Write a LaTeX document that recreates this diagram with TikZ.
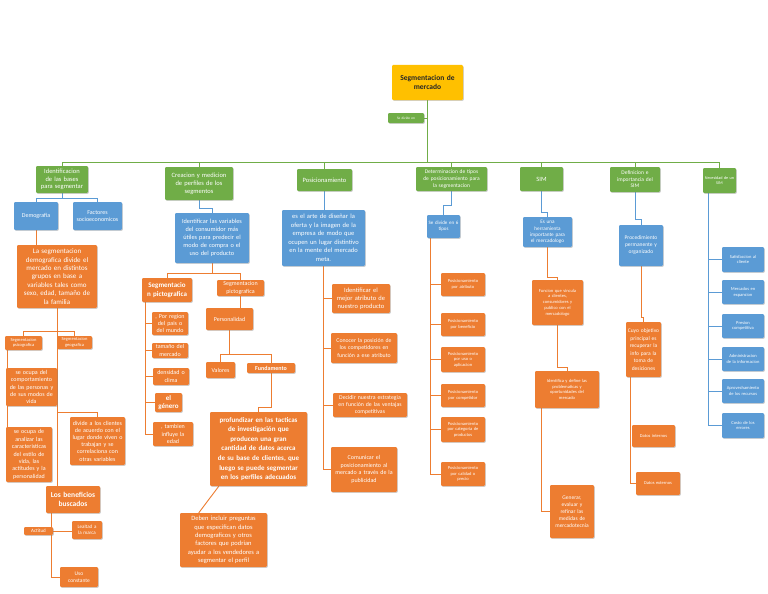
\documentclass[tikz,border=0pt]{standalone}
\usepackage{fontspec}
\setmainfont{Carlito}
\usetikzlibrary{shadows}
\definecolor{cgreen}{HTML}{70AD47}
\definecolor{cblue}{HTML}{5B9BD5}
\definecolor{corange}{HTML}{ED7D31}
\definecolor{cgold}{HTML}{FFC000}
\newcommand\myfs[2]{\fontsize{#1}{#2}\selectfont}
\newcommand\mybox[7]{%
  \pgfmathsetmacro\mbcx{(#3+#5)/2}%
  \pgfmathsetmacro\mbcy{(#4+#6)/2}%
  \pgfmathsetmacro\mbw{#5-#3}%
  \pgfmathsetmacro\mbh{#6-#4}%
  \pgfmathsetmacro\mbtw{#5-#3-2}%
  \node[box,#2,minimum width=\mbw pt,minimum height=\mbh pt,text width=\mbtw pt] (#1) at (\mbcx,\mbcy) {#7};%
}
\pgfdeclarelayer{bg}
\pgfsetlayers{bg,main}
\tikzset{
  box/.style={draw=none,rounded corners=1.2pt,inner xsep=1pt,inner ysep=0.5pt,align=center,text=white,
    drop shadow={shadow xshift=0.8pt,shadow yshift=-0.9pt,opacity=0.35}},
  gb/.style={fill=cgreen},
  bb/.style={fill=cblue},
  ob/.style={fill=corange},
  tb/.style={fill=cgold,text=black!85},
  gl/.style={draw=cgreen,line width=0.9pt},
  bl/.style={draw=cblue,line width=0.9pt},
  ol/.style={draw=corange,line width=0.9pt},
}
\begin{document}
\begin{tikzpicture}[x=1pt,y=-1pt]
\useasboundingbox (0,0) rectangle (768,594);
% title
\mybox{title}{tb,font=\myfs{7.5}{9}\bfseries}{392}{65}{463}{100}{Segmentacion de\\mercado}
\mybox{sdiv}{gb,font=\myfs{3.5}{4}}{388}{113}{424}{123}{Se divide en}
% level 1
\mybox{g1}{gb,font=\myfs{6.5}{7.8}}{36}{166}{88}{193}{Identificacion\\de las bases\\para segmentar}
\mybox{g2}{gb,font=\myfs{6.5}{7.8}}{165}{167}{233}{200}{Creacion y medicion\\de perfiles de los\\segmentos}
\mybox{g3}{gb,font=\myfs{6.5}{7.8}}{297}{169}{352}{191}{Posicionamiento}
\mybox{g4}{gb,font=\myfs{5.5}{6.6}}{416}{167}{487}{191}{Determinacion de tipos\\de posicionamiento para\\la segmentacion}
\mybox{g5}{gb,font=\myfs{6.5}{7.8}}{520}{167}{563}{191}{SIM}
\mybox{g6}{gb,font=\myfs{5.5}{6.6}}{610}{167}{660}{192}{Definicion e\\importancia del\\SIM}
\mybox{g7}{gb,inner xsep=0pt,font=\myfs{4.2}{5.2}}{703}{168}{736}{193}{\mbox{Necesidad de un}\\SIM}
% column 1
\mybox{demo}{bb,font=\myfs{6}{7.2}}{14}{202}{58}{230}{Demografia}
\mybox{fact}{bb,font=\myfs{6}{7.2}}{73}{202}{122}{230}{Factores\\socioeconomicos}
\mybox{segdem}{ob,font=\myfs{7}{8.4}}{17}{245}{97}{308}{La segmentacion\\demografica divide el\\mercado en distintos\\grupos en base a\\variables tales como\\sexo, edad, tamaño de\\la familia}
\mybox{psico}{ob,font=\myfs{4.5}{5.4}}{5}{336}{42}{350}{Segmentacion\\psicografica}
\mybox{geo}{ob,font=\myfs{4.5}{5.4}}{57}{336}{92}{349}{Segmentacion\\geografica}
\mybox{comp}{ob,font=\myfs{6}{7.2}}{6}{368}{57}{406}{se ocupa del\\comportamiento\\de las personas y\\de sus modos de\\vida}
\mybox{divide}{ob,font=\myfs{6}{7.2}}{70}{417}{125}{465}{divide a los clientes\\de acuerdo con el\\lugar donde viven o\\trabajan y se\\correlaciona con\\otras variables}
\mybox{anal}{ob,font=\myfs{6}{7.4}}{6}{427}{52}{482}{se ocupa de\\analizar las\\caracteristicas\\del estilo de\\vida, las\\actitudes y la\\personalidad}
\mybox{benef}{ob,font=\myfs{7.5}{9}\bfseries}{46}{486}{100}{513}{Los beneficios\\buscados}
\mybox{actit}{ob,font=\myfs{5}{6}}{24}{527}{53}{535}{Actitud}
\mybox{leal}{ob,font=\myfs{5}{6}}{72}{521}{102}{539}{Lealtad a\\la marca}
\mybox{uso}{ob,font=\myfs{5.5}{6.6}}{60}{567}{98}{587}{Uso\\constante}
% column 2
\mybox{ident2}{bb,font=\myfs{6.3}{8}}{175}{213}{249}{263}{Identificar las variables\\del consumidor más\\útiles para predecir el\\modo de compra o el\\uso del producto}
\mybox{spict}{ob,font=\myfs{7}{8.4}\bfseries}{142}{278}{192}{302}{Segmentacio\\n pictografica}
\mybox{spict2}{ob,font=\myfs{6}{7.2}}{217}{280}{264}{296}{Segmentacion\\pictografica}
\mybox{person}{ob,font=\myfs{6}{7.2}}{206}{308}{253}{330}{Personalidad}
\mybox{valores}{ob,font=\myfs{6}{7.2}}{206}{362}{235}{378}{Valores}
\mybox{fund}{ob,font=\myfs{6}{7.2}\bfseries}{247}{363}{295}{373}{Fundamento}
\mybox{region}{ob,font=\myfs{6}{7.2}}{152}{312}{188}{335}{, Por region\\del pais o\\del mundo}
\mybox{tam}{ob,font=\myfs{6}{7.2}}{152}{343}{188}{358}{tamaño del\\mercado}
\mybox{dens}{ob,font=\myfs{6}{7.2}}{153}{368}{189}{385}{densidad o\\clima}
\mybox{genero}{ob,font=\myfs{7}{8.4}\bfseries}{155}{393}{182}{412}{el\\género}
\mybox{tamb}{ob,font=\myfs{6}{7.2}}{153}{422}{193}{446}{, tambien\\influye la\\edad}
\mybox{prof}{ob,font=\myfs{7}{9.6}\bfseries}{210}{412}{307}{486}{profundizar en las tacticas\\de investigación que\\producen una gran\\cantidad de datos acerca\\de su base de clientes, que\\luego se puede segmentar\\en los perfiles adecuados}
\mybox{deben}{ob,font=\myfs{6.5}{8.3}}{180}{513}{267}{567}{Deben incluir preguntas\\que especifican datos\\demograficos y otros\\factores que podrian\\ayudar a los vendedores a\\segmentar el perfil}
% column 3
\mybox{arte}{bb,font=\myfs{6.5}{8.5}}{282}{210}{365}{266}{es el arte de diseñar la\\oferta y la imagen de la\\empresa de modo que\\ocupen un lugar distintivo\\en la mente del mercado\\meta.}
\mybox{p1}{ob,font=\myfs{6.5}{8}}{332}{284}{390}{313}{Identificar el\\mejor atributo de\\nuestro producto}
\mybox{p2}{ob,font=\myfs{5.8}{7.2}}{331}{333}{397}{363}{Conocer la posición de\\los competidores en\\función a ese atributo}
\mybox{p3}{ob,font=\myfs{5.8}{7.2}}{333}{393}{407}{417}{Decidir nuestra estrategia\\en función de las ventajas\\competitivas}
\mybox{p4}{ob,font=\myfs{6}{7.5}}{331}{447}{397}{492}{Comunicar el\\posicionamiento al\\mercado a través de la\\publicidad}
% column 4
\mybox{sdiv6}{bb,font=\myfs{5}{6.2}}{427}{215}{460}{238}{Se divide en 6\\tipos}
\mybox{t1}{ob,font=\myfs{4.5}{5.6}}{441}{273}{485}{296}{Posicionamiento\\por atributo}
\mybox{t2}{ob,font=\myfs{4.5}{5.6}}{441}{313}{485}{336}{Posicionamiento\\por beneficio}
\mybox{t3}{ob,font=\myfs{4.5}{5.6}}{441}{347}{485}{372}{Posicionamiento\\por uso o\\aplicacion}
\mybox{t4}{ob,font=\myfs{4.5}{5.6}}{441}{384}{485}{407}{Posicionamiento\\por competidor}
\mybox{t5}{ob,font=\myfs{4.5}{5.6}}{441}{417}{485}{442}{Posicionamiento\\por categoria de\\productos}
\mybox{t6}{ob,font=\myfs{4.5}{5.6}}{441}{462}{485}{486}{Posicionamiento\\por calidad o\\precio}
% column 5
\mybox{herr}{bb,font=\myfs{5.2}{6.4}}{523}{217}{572}{247}{Es una\\herramienta\\importante para\\el mercadologo}
\mybox{func}{ob,font=\myfs{4.5}{5.8}}{532}{280}{583}{325}{Funcion que vincula\\a clientes,\\consumidores y\\publico con el\\mercadologo}
\mybox{ident5}{ob,font=\myfs{4.5}{5.8}}{535}{371}{599}{408}{Identifica y define las\\problematicas y\\oportunidades del\\mercado}
\mybox{gen}{ob,font=\myfs{5.5}{7}}{550}{485}{594}{538}{Generar,\\evaluar y\\refinar las\\medidas de\\mercadotecnia}
% column 6
\mybox{proc}{bb,font=\myfs{5.5}{7}}{619}{225}{663}{266}{Procedimiento\\permanente y\\organizado}
\mybox{cuyo}{ob,font=\myfs{5.5}{7.5}}{626}{322}{661}{377}{Cuyo objetivo\\principal es\\recuperar la\\info para la\\toma de\\desiciones}
\mybox{dint}{ob,font=\myfs{4.5}{5.4}}{632}{425}{675}{447}{Datos internos}
\mybox{dext}{ob,font=\myfs{4.5}{5.4}}{636}{472}{680}{495}{Datos externos}
% column 7
\mybox{n1}{bb,font=\myfs{4.5}{5.6}}{722}{247}{764}{272}{Satisfaccion al\\cliente}
\mybox{n2}{bb,font=\myfs{4.5}{5.6}}{722}{280}{764}{304}{Mercados en\\expansion}
\mybox{n3}{bb,font=\myfs{4.5}{5.6}}{722}{314}{764}{338}{Presion\\competitiva}
\mybox{n4}{bb,font=\myfs{4.5}{5.6}}{722}{347}{764}{371}{Administracion\\de la informacion}
\mybox{n5}{bb,font=\myfs{4.5}{5.6}}{722}{379}{764}{403}{Aprovechamiento\\de los recursos}
\mybox{n6}{bb,font=\myfs{4.5}{5.6}}{722}{413}{764}{438}{Costo de los\\errores}
\begin{pgfonlayer}{bg}
\fill[white] (0,0) rectangle (768,594);
% bus
\draw[gl] (title.south) -- (title.south |- 0,162) coordinate (bus);
\draw[gl] (sdiv.east) -- (sdiv.east -| title.south);
\foreach \g in {g1,g2,g3,g4,g5,g6,g7}{\draw[gl] (bus) -| (\g.north);}
% column 1
\draw[bl] (g1.south) -- ++(0,5) -| (demo.north);
\draw[bl] (g1.south) -- ++(0,5) -| (fact.north);
\draw[ol] (demo.south) -- (demo.south |- segdem.north);
\draw[ol] (psico.north) -- ++(0,-4) -| (geo.north);
\draw[ol] (segdem.south) -- (segdem.south |- benef.north);
\draw[ol] (segdem.south |- 0,412) -| (divide.north);
\draw[ol] ([xshift=3pt]psico.south west) -- ([xshift=3pt]psico.south west |- comp.north);
\draw[ol] ([xshift=2pt]comp.south west) -- ([xshift=2pt]comp.south west |- anal.north);
\draw[ol] ([xshift=6pt]benef.south west) |- (uso.west);
\draw[ol] (actit.east) -- (actit.east -| leal.west);
% column 2
\draw[bl] (g2.south) -- ++(0,8) -| (ident2.north);
\draw[ol] (ident2.south) -- ++(0,10) -| (spict.north);
\draw[ol] (ident2.south) -- ++(0,10) -| (spict2.north);
\draw[ol] (spict2.south) -- (spict2.south |- person.north);
\draw[ol] (valores.north) -- ++(0,-7) -| (fund.north);
\draw[ol] (person.south) -- (person.south |- 0,355);
\draw[ol] (fund.south) -- ++(0,34) -| (prof.north);
\draw[ol] ([xshift=9pt]prof.south west) -- ([xshift=19pt]deben.north west);
\foreach \c in {region,tam,dens,genero,tamb}{\draw[ol] ([xshift=4pt]spict.south west) |- (\c.west);}
% column 3
\draw[bl] (g3.south) -- (g3.south |- arte.north);
\foreach \c in {p1,p2,p3,p4}{\draw[ol] (arte.south) |- (\c.west);}
% column 4
\draw[bl] (g4.south) -- ++(0,14) -| (sdiv6.north);
\foreach \c in {t1,t2,t3,t4,t5,t6}{\draw[ol] ([xshift=4pt]sdiv6.south west) |- (\c.west);}
% column 5
\draw[bl] (g5.south) -- ++(0,21) -| (herr.north);
\draw[ol] (herr.south) -- ++(0,30) -| (func.north);
\draw[ol] (func.south) -- ++(0,42) -| (ident5.north);
\draw[ol] ([xshift=7pt]ident5.south west) |- (gen.west);
% column 6
\draw[bl] (g6.south) -- ++(0,27) -| (proc.north);
\draw[ol] (proc.south) -- ++(0,51) -| (cuyo.north);
\draw[ol] ([xshift=5pt]cuyo.south west) |- (dext.west);
% column 7
\foreach \c in {n1,n2,n3,n4,n5,n6}{\draw[bl] ([xshift=6pt]g7.south west) |- (\c.west);}
\end{pgfonlayer}
\end{tikzpicture}
\end{document}
